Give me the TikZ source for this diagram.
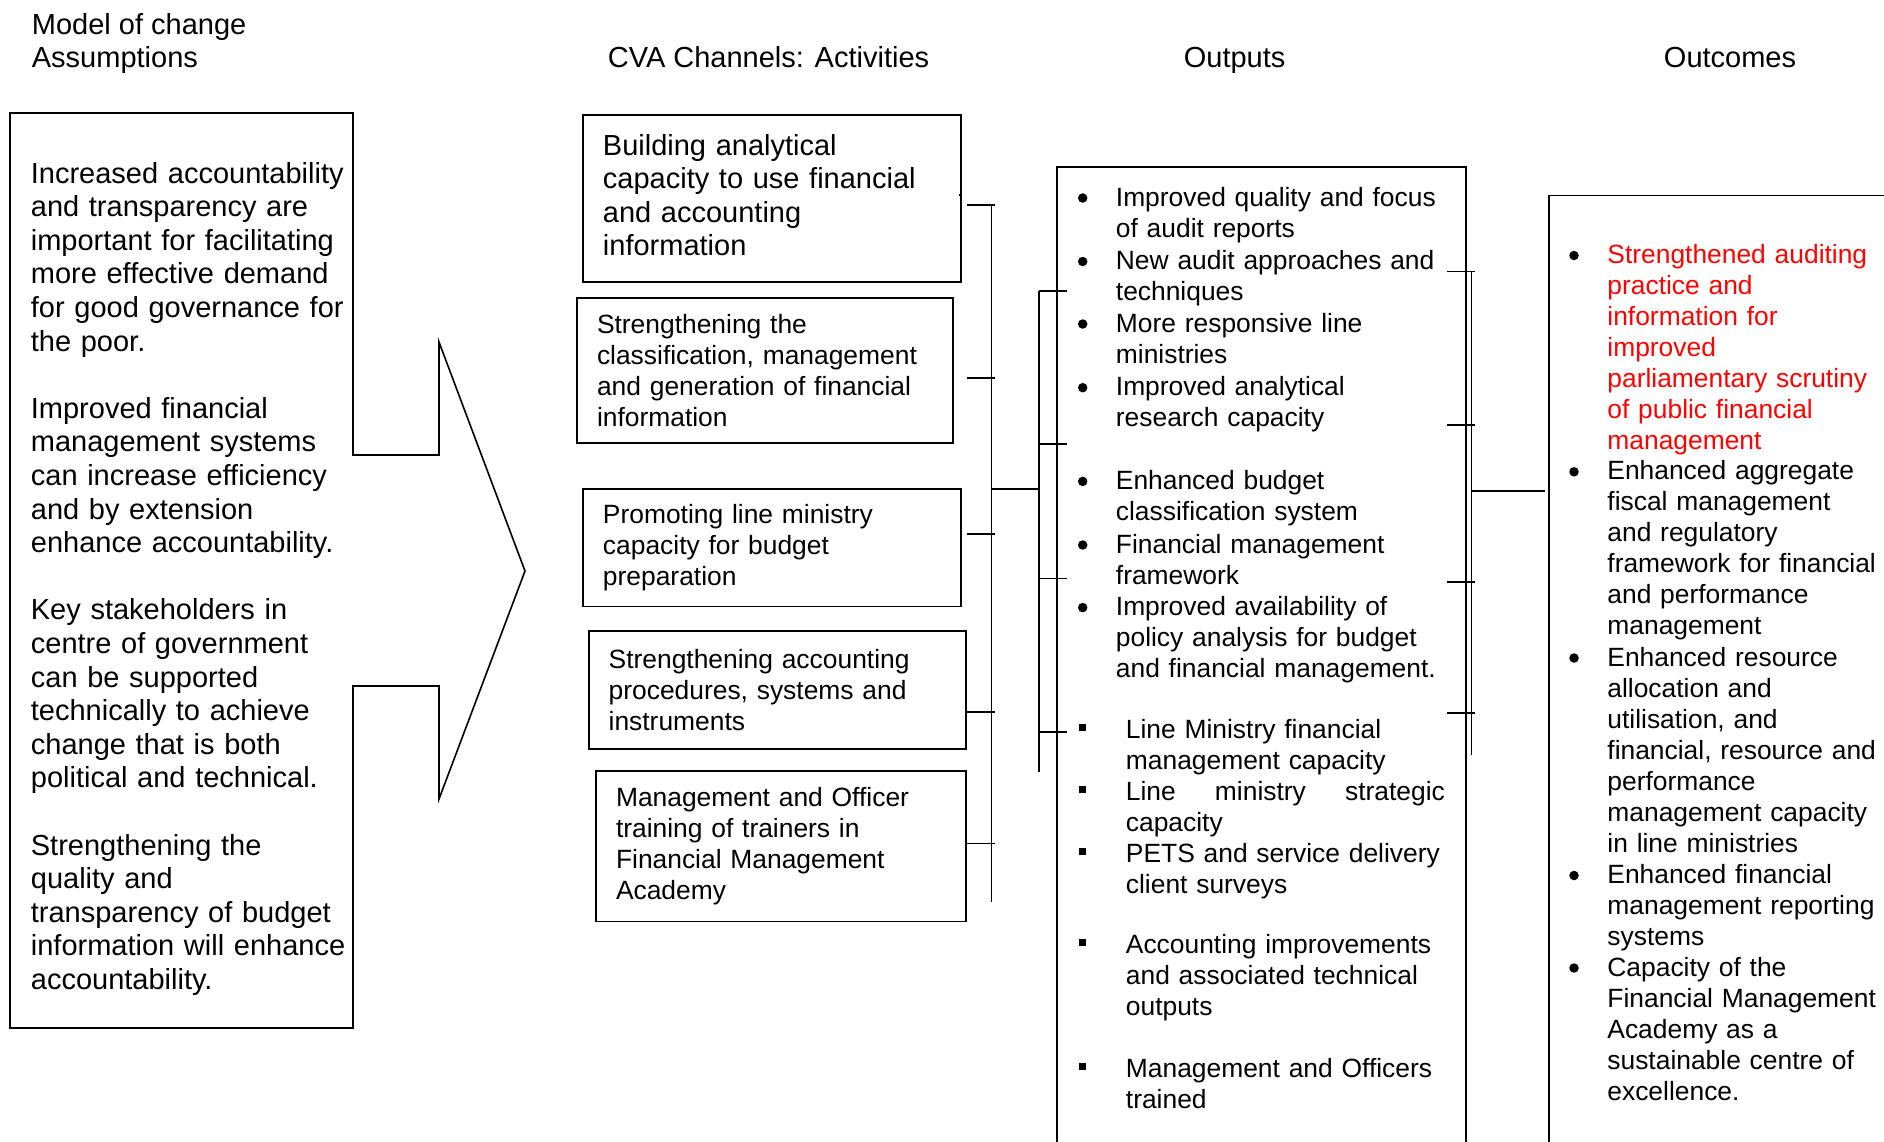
\documentclass[tikz,border=0pt]{standalone}
\usepackage{fontspec}
\setmainfont{Liberation Sans}
\begin{document}
\begin{tikzpicture}[x=1pt,y=-1pt, line width=1.8pt,
  big/.style={font=\fontsize{29.0}{33.6}\selectfont},
  small/.style={font=\fontsize{26.4}{31}\selectfont},
  hdr/.style={big, anchor=base west, inner sep=0},
  hdrc/.style={big, anchor=base, inner sep=0},
  actbox/.style={draw, small, align=left, inner xsep=20, inner ysep=0},
  txt/.style={small, anchor=base west, inner sep=0, align=left, text width=#1},
  dot/.style={circle, fill, inner sep=0, minimum size=9.5},
  sq/.style={rectangle, fill, inner sep=0, minimum size=7.5},
  colbox/.style={draw, anchor=north west, inner sep=0}]
\useasboundingbox (0,0) rectangle (1884,1141);
\clip (0,0) rectangle (1884,1141);
\fill[white] (0,0) rectangle (1884,1141);

% headers
\node[hdr] (h1) at (31,34) {Model of change};
\node[hdr] (h2) at (31,67) {Assumptions};
\node[hdr] (h3) at (607,67) {CVA Channels: Activities};
\node[hdrc] (h4) at (1234.6,67) {Outputs};
\node[hdrc] (h5) at (1730,67) {Outcomes};

% assumptions box with arrow
\draw[line width=1.6pt, line join=miter] (10,113) -- (353,113) -- (353,455) -- (439,455) -- (439,342)
  -- (525,571) -- (439,799) -- (439,686) -- (353,686) -- (353,1028) -- (10,1028) -- cycle;
\node[txt=330, big] (assume) at (30,183) {Increased accountability\\and transparency are\\important for facilitating\\more effective demand\\for good governance for\\the poor.\\[33.6pt]Improved financial\\management systems\\can increase efficiency\\and by extension\\enhance accountability.\\[33.6pt]Key stakeholders in\\centre of government\\can be supported\\technically to achieve\\change that is both\\political and technical.\\[33.6pt]Strengthening the\\quality and\\transparency of budget\\information will enhance\\accountability.};

% activities
\node[actbox, big, minimum width=377.7, minimum height=167, text width=337.7] (a1) at (771.8,198.5)
  {Building analytical\\capacity to use financial\\and accounting\\information\rule[-7pt]{0pt}{7pt}};
\node[actbox, minimum width=376, minimum height=145, text width=336] (a2) at (765,370.5)
  {Strengthening the\\classification, management\\and generation of financial\\information};
\node[actbox, minimum width=377.7, minimum height=117.5, text width=337.7] (a3) at (771.8,547.8)
  {Promoting line ministry\\capacity for budget\\preparation};
\node[actbox, minimum width=377.3, minimum height=117.3, text width=337.3] (a4) at (777.3,690)
  {Strengthening accounting\\procedures, systems and\\instruments};
\node[actbox, minimum width=370, minimum height=150.5, text width=330] (a5) at (781,846.2)
  {Management and Officer\\training of trainers in\\Financial Management\\Academy};

% outputs and outcomes boxes
\node[colbox, minimum width=409, minimum height=1100] (outbox) at (1056,166) {};
\node[colbox, minimum width=400, minimum height=1100] (outcbox) at (1548,194.5) {};

% outputs items
\node[txt=345] (o1) at (1115,206) {Improved quality and focus\\of audit reports};
\node[txt=345] (o2) at (1115,269.5) {New audit approaches and\\techniques};
\node[txt=345] (o3) at (1115,332) {More responsive line\\ministries};
\node[txt=345] (o4) at (1115,395.7) {Improved analytical\\research capacity};
\node[txt=345] (o5) at (1115,489.4) {Enhanced budget\\classification system};
\node[txt=345] (o6) at (1115,553) {Financial management\\framework};
\node[txt=345] (o7) at (1115,615.6) {Improved availability of\\policy analysis for budget\\and financial management.};
\node[txt=335] (o8) at (1125,738) {Line Ministry financial\\management capacity};
\node[txt=335] (o9) at (1125,800) {\hbox to 319pt{Line\hfill ministry\hfill strategic}\\capacity};
\node[txt=335] (o10) at (1125,862) {PETS and service delivery\\client surveys};
\node[txt=335] (o11) at (1125,953) {Accounting improvements\\and associated technical\\outputs};
\node[txt=335] (o12) at (1125,1077) {Management and Officers\\trained};
\foreach \i in {1,...,7} {\node[dot] (ob\i) at ([shift={(-32.3,-8)}]o\i.base west) {};}
\foreach \i in {8,...,12} {\node[sq] (ob\i) at ([shift={(-42.3,-10.5)}]o\i.base west) {};}

% outcomes items
\node[txt=276, text=red] (c1) at (1606.5,263.5) {Strengthened auditing\\practice and\\information for\\improved\\parliamentary scrutiny\\of public financial\\management};
\node[txt=276] (c2) at (1606.5,479.8) {Enhanced aggregate\\fiscal management\\and regulatory\\framework for financial\\and performance\\management};
\node[txt=276] (c3) at (1606.5,666) {Enhanced resource\\allocation and\\utilisation, and\\financial, resource and\\performance\\management capacity\\in line ministries};
\node[txt=276] (c4) at (1606.5,883.5) {Enhanced financial\\management reporting\\systems};
\node[txt=276] (c5) at (1606.5,976) {Capacity of the\\Financial Management\\Academy as a\\sustainable centre of\\excellence.};
\foreach \i in {1,...,5} {\node[dot] (cb\i) at ([shift={(-32.5,-8)}]c\i.base west) {};}

% connectors: activities bus
\coordinate (bus1t) at (991.5,205);
\coordinate (bus1b) at (991.5,902);
\coordinate (bus2t) at (1039.3,290.6);
\coordinate (bus2b) at (1039.3,772);
\coordinate (bus3t) at (1471.5,271.5);
\coordinate (bus3b) at (1471.5,755);
\draw (bus1t) -- (bus1b);
\draw ([xshift=-3]a1.east |- 0,195) -- (a1.east |- 0,195);
\foreach \y in {205,378,534,712,843.5} {\draw (966.7,\y) -- (995,\y);}
\coordinate (j1) at (991.5,489);
\draw (j1) -- (j1 -| bus2t);
\draw (bus2t) -- (bus2b);
\foreach \y in {290.6,443.8,578.5,732.2} {\draw (1039.3,\y) -- (1066.7,\y);}
\draw (bus3t) -- (bus3b);
\foreach \y in {271.5,425,582,713} {\draw (1447,\y) -- (1475,\y);}
\coordinate (j2) at (1471.5,490.8);
\draw[shorten >=3.5pt] (j2) -- (j2 -| outcbox.west);
\end{tikzpicture}
\end{document}
